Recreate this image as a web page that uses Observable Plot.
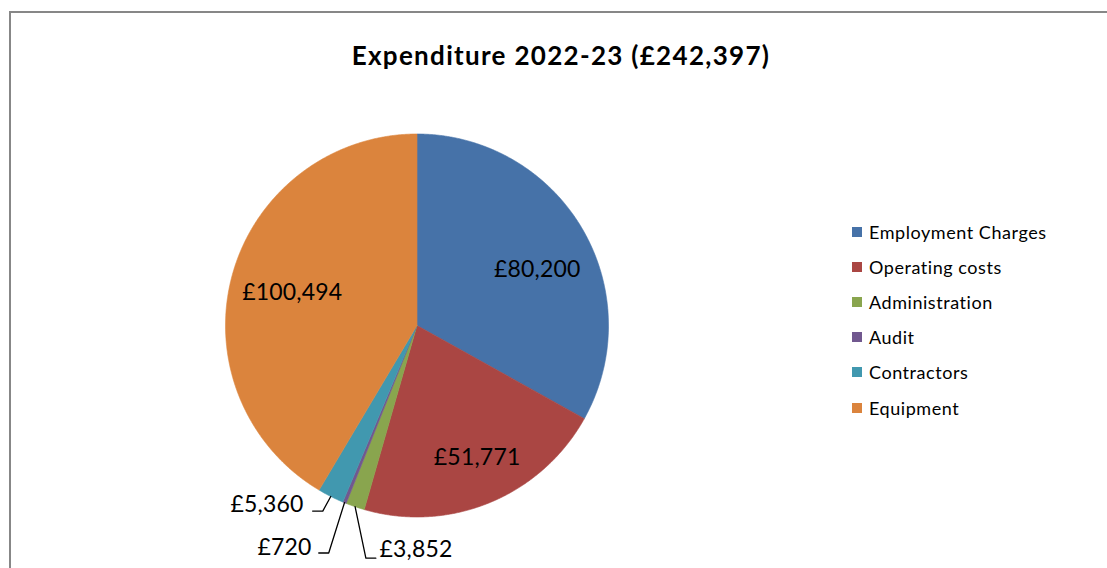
<!DOCTYPE html>
<html><head><meta charset="utf-8">
<script src="https://cdn.jsdelivr.net/npm/d3@7"></script>
<script src="https://cdn.jsdelivr.net/npm/@observablehq/plot@0.6"></script>
<style>
body{margin:0;background:#fff;font-family:Lato,"Open Sans",sans-serif;}
#wrap{position:relative;width:1107px;height:568px;overflow:hidden;background:#fff;}
#frame{position:absolute;left:9px;top:11px;width:1200px;height:700px;border-top:2px solid #878787;border-left:2px solid #878787;}
#title{position:absolute;left:0;top:38px;width:1122px;text-align:center;font-weight:700;font-size:26px;letter-spacing:1.3px;line-height:34px;color:#000;}
#chart{position:absolute;left:0;top:0;}
#chart text{letter-spacing:0.2px;}
#legend{position:absolute;left:852px;top:214px;font-size:18px;letter-spacing:0.55px;color:#000;}
.row{height:35.2px;display:flex;align-items:center;white-space:nowrap;}
.sw{width:10px;height:10px;margin-right:7px;flex:none;}
</style></head>
<body>
<div id="wrap">
  <div id="frame"></div>
  <div id="title">Expenditure 2022-23 (£242,397)</div>
  <div id="chart"></div>
  <div id="legend"></div>
</div>
<script>
// ---- data ----
const categories = ["Employment Charges", "Operating costs", "Administration", "Audit", "Contractors", "Equipment"];
const amounts = [80200, 51771, 3852, 720, 5360, 100494];
const colors = ["#4672A8", "#AA4643", "#89A54E", "#71588F", "#4198AF", "#DB843D"];

// ---- layout ----
const cx = 416.5, cy = 325, r = 191.5;
const fmt = v => "£" + d3.format(",")(v);
const rows = categories.map((c, i) => ({cat: c, amount: amounts[i]}));
const arcs = d3.pie().sort(null).value(d => d.amount)(rows);

// slice outlines in unit space (angle from 12 o'clock, clockwise)
const slicePts = [];
for (const a of arcs) {
  slicePts.push({cat: a.data.cat, x: 0, y: 0});
  const n = Math.max(2, Math.ceil((a.endAngle - a.startAngle) / 0.005));
  for (let k = 0; k <= n; k++) {
    const t = a.startAngle + (a.endAngle - a.startAngle) * k / n;
    slicePts.push({cat: a.data.cat, x: Math.sin(t), y: Math.cos(t)});
  }
  slicePts.push({cat: a.data.cat, x: 0, y: 0});
}

// inside labels: [angle offset (deg) from mid-angle, radius fraction]
const insidePlace = {"Employment Charges": [5.4, 0.693], "Operating costs": [-2.0, 0.759], "Equipment": [-0.5, 0.674]};
const insideLabels = arcs.filter(a => insidePlace[a.data.cat]).map(a => {
  const [da, f] = insidePlace[a.data.cat];
  const m = (a.startAngle + a.endAngle) / 2 + da * Math.PI / 180;
  return {x: f * Math.sin(m), y: f * Math.cos(m), text: fmt(a.data.amount)};
});

// callout labels: elbow, tail end, text anchor (unit space)
const calloutPlace = {
  "Contractors":    {elbow: [-0.492, -0.969], tail: [-0.545, -0.969], text: [-0.592, -0.935], anchor: "end"},
  "Audit":          {elbow: [-0.461, -1.188], tail: [-0.513, -1.188], text: [-0.550, -1.160], anchor: "end"},
  "Administration": {elbow: [-0.267, -1.215], tail: [-0.215, -1.215], text: [-0.196, -1.170], anchor: "start"}
};
const leaderPts = [], outsideLabels = [];
for (const a of arcs) {
  const p = calloutPlace[a.data.cat];
  if (!p) continue;
  const m = (a.startAngle + a.endAngle) / 2;
  leaderPts.push({cat: a.data.cat, x: Math.sin(m), y: Math.cos(m)});
  leaderPts.push({cat: a.data.cat, x: p.elbow[0], y: p.elbow[1]});
  leaderPts.push({cat: a.data.cat, x: p.tail[0], y: p.tail[1]});
  outsideLabels.push({x: p.text[0], y: p.text[1], text: fmt(a.data.amount), anchor: p.anchor});
}

const plot = Plot.plot({
  width: 1107, height: 568, margin: 0,
  style: {fontFamily: "Lato, 'Open Sans', sans-serif", background: "transparent", overflow: "visible"},
  x: {domain: [-1, 1], range: [cx - r, cx + r], axis: null},
  y: {domain: [-1, 1], range: [cy + r, cy - r], axis: null},
  color: {domain: categories, range: colors},
  marks: [
    Plot.line(slicePts, {x: "x", y: "y", z: "cat", fill: "cat", stroke: "cat", strokeWidth: 0.6, curve: "linear"}),
    Plot.text(insideLabels, {x: "x", y: "y", text: "text", fontSize: 23, fill: "#000"}),
    Plot.line(leaderPts, {x: "x", y: "y", z: "cat", stroke: "#000", strokeWidth: 1.3, curve: "linear"}),
    Plot.text(outsideLabels.filter(d => d.anchor === "end"), {x: "x", y: "y", text: "text", fontSize: 23, fill: "#000", textAnchor: "end"}),
    Plot.text(outsideLabels.filter(d => d.anchor === "start"), {x: "x", y: "y", text: "text", fontSize: 23, fill: "#000", textAnchor: "start"})
  ]
});
document.getElementById("chart").appendChild(plot);

// legend from the plot's colour scale
const colorScale = plot.scale("color");
const lg = document.getElementById("legend");
colorScale.domain.forEach((c, i) => {
  const row = document.createElement("div");
  row.className = "row";
  const sw = document.createElement("span");
  sw.className = "sw";
  sw.style.background = colorScale.range[i];
  const tx = document.createElement("span");
  tx.textContent = c;
  row.appendChild(sw); row.appendChild(tx);
  lg.appendChild(row);
});
</script>
</body></html>
